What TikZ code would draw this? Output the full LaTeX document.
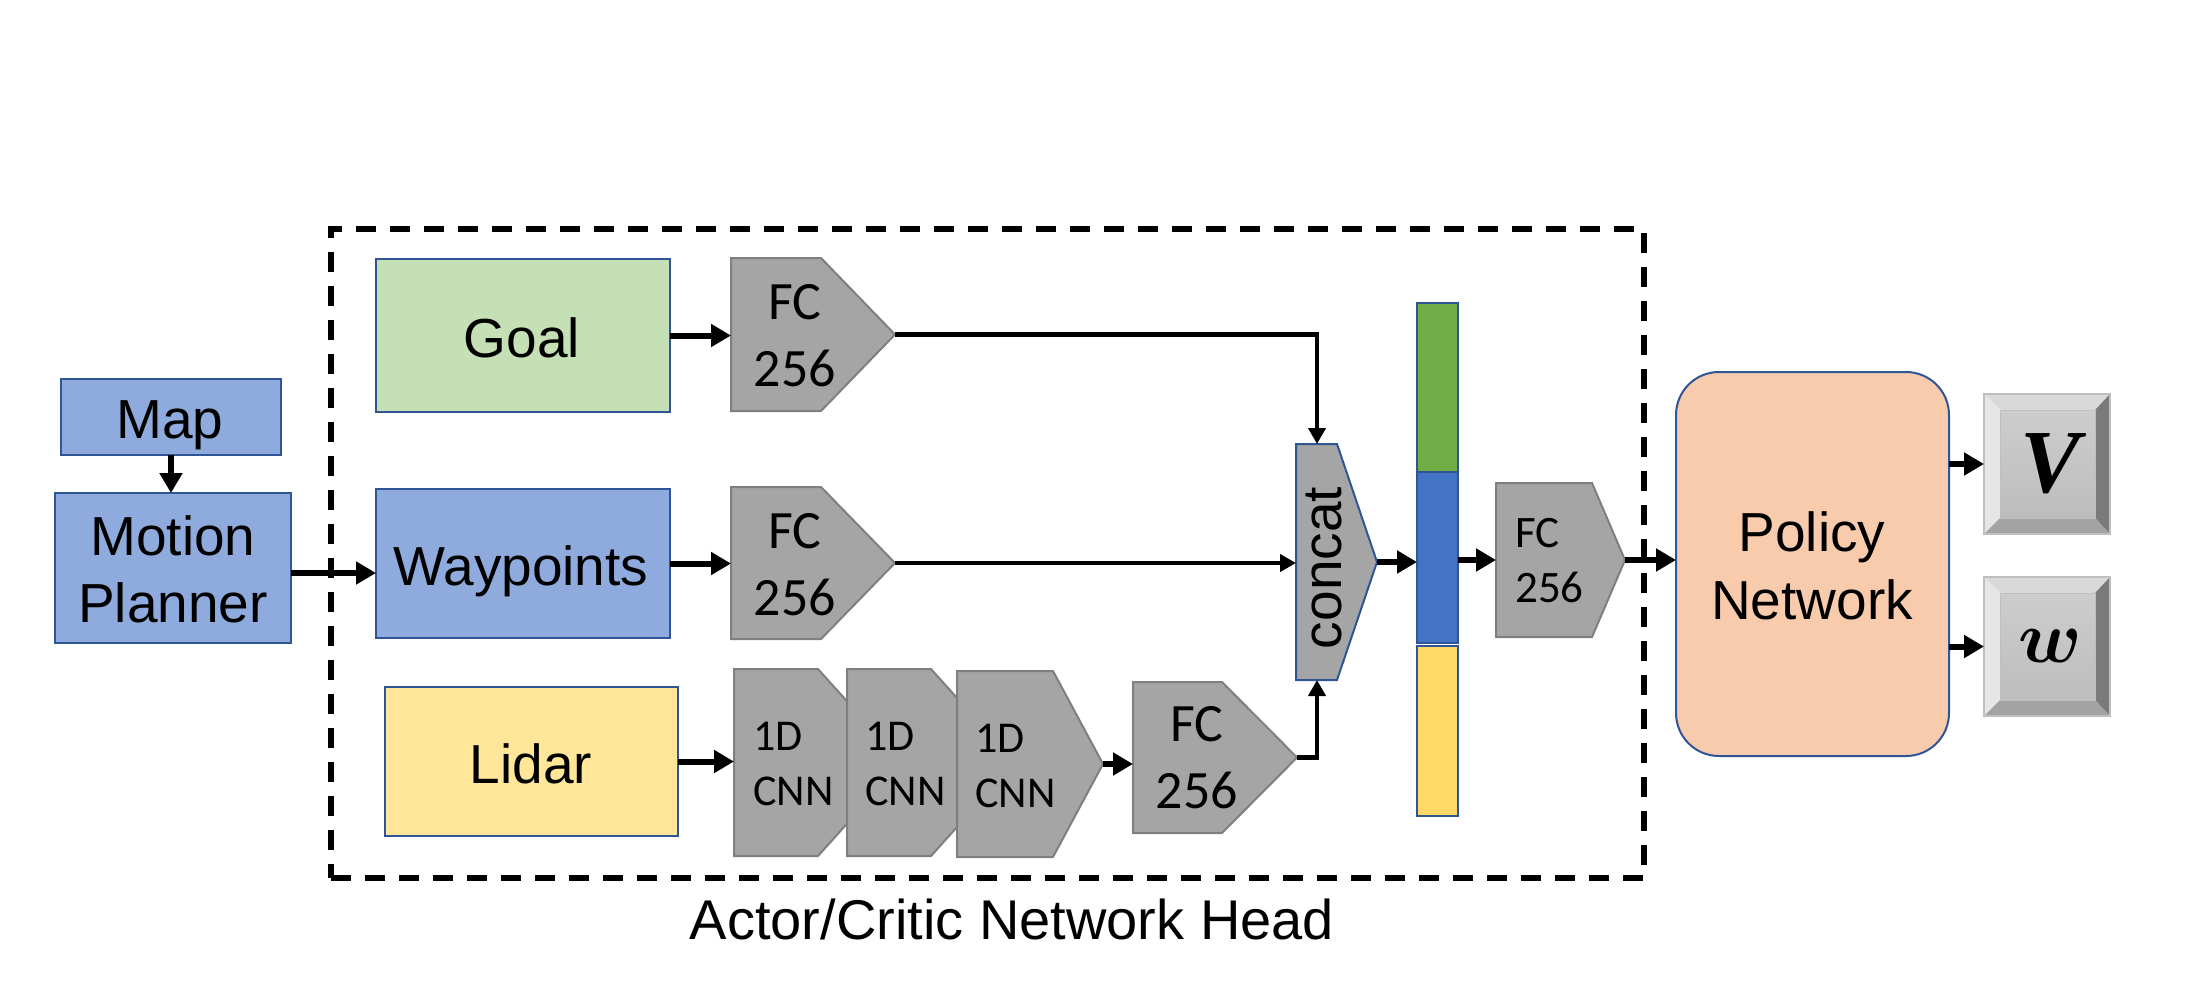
\documentclass[tikz,border=0pt]{standalone}
\usepackage{amsmath}
\usepackage{graphicx}
\usepackage{fontspec}
\setmainfont{Liberation Sans}
\newfontfamily\calib{Carlito}
\newfontfamily\timesf{Liberation Serif}
\usetikzlibrary{arrows.meta}
\definecolor{bordblue}{HTML}{2F5597}
\definecolor{goalgreen}{HTML}{C5E0B4}
\definecolor{wpblue}{HTML}{8FAADC}
\definecolor{lidaryellow}{HTML}{FFE699}
\definecolor{fcgray}{HTML}{A5A5A5}
\definecolor{fcedge}{HTML}{7F7F7F}
\definecolor{bargreen}{HTML}{70AD47}
\definecolor{barblue}{HTML}{4472C4}
\definecolor{baryellow}{HTML}{FFD966}
\definecolor{policypeach}{HTML}{F8CBAD}
\definecolor{keytop}{HTML}{D9D9D9}
\definecolor{keyleft}{HTML}{E6E6E6}
\definecolor{keyright}{HTML}{7A7A7A}
\definecolor{keybottom}{HTML}{A3A3A3}
\definecolor{keyfacetop}{HTML}{CDCDCD}
\definecolor{keyfacebot}{HTML}{BDBDBD}
\definecolor{keyedge}{HTML}{BFBFBF}

% pentagon block: name, x-left, x-rect-end, x-tip, y-top, y-bottom
\newcommand\pentshape[6]{%
  \draw[fcshape] (#2,#5) -- (#3,#5) -- (#4,{(#5+#6)/2}) -- (#3,#6) -- (#2,#6) -- cycle;
  \coordinate (#1-in) at (#2,{(#5+#6)/2});
  \coordinate (#1-out) at (#4,{(#5+#6)/2});
}
% bevelled key: name, x1, y1, x2, y2, label
\newcommand\bevelkey[6]{%
  \fill[keytop] (#2,#3) -- (#4,#3) -- (#4-15,#3+16) -- (#2+16,#3+16) -- cycle;
  \fill[keyleft] (#2,#3) -- (#2+16,#3+16) -- (#2+16,#5-16) -- (#2,#5) -- cycle;
  \fill[keyright] (#4,#3) -- (#4-15,#3+16) -- (#4-15,#5-16) -- (#4,#5) -- cycle;
  \fill[keybottom] (#2,#5) -- (#2+16,#5-16) -- (#4-15,#5-16) -- (#4,#5) -- cycle;
  \shade[top color=keyfacetop, bottom color=keyfacebot] (#2+16,#3+16) rectangle (#4-15,#5-16);
  \draw[keyedge, line width=1pt] (#2+16,#3+16) rectangle (#4-15,#5-16);
  \draw[keyedge, line width=2pt] (#2,#3) rectangle (#4,#5);
  \node[inner sep=0pt, outer sep=0pt, minimum width={#4-#2}, minimum height={#5-#3}] (#1)
    at ({(#2+#4)/2},{(#3+#5)/2}) {};
  \node[inner sep=0pt] (#1-lbl) at ([xshift=3pt]#1.center) {#6};
}

\begin{document}
\begin{tikzpicture}[x=1pt,y=-1pt,
  box/.style={draw=bordblue, line width=2pt, inner sep=0pt, outer sep=0pt},
  fcshape/.style={draw=fcedge, fill=fcgray, line width=2pt, line join=miter},
  lbl/.style={inner sep=0pt, font=\fontsize{55}{67}\selectfont},
  mlbl/.style={inner sep=0pt, align=center, font=\fontsize{55}{67}\selectfont},
  fctext/.style={inner sep=0pt, align=center, font=\calib\fontsize{54}{67}\selectfont},
  smallfc/.style={inner sep=0pt, align=left, anchor=west, font=\calib\fontsize{45}{55}\selectfont},
  cnntext/.style={inner sep=0pt, align=left, anchor=west, font=\calib\fontsize{44}{55}\selectfont},
  arr/.style={line width=6pt, -{Triangle[length=20pt,width=22pt]}},
  conn/.style={line width=4.5pt, -{Triangle[length=16pt,width=17pt]}},
  headbox/.style={draw, dash pattern=on 20pt off 14pt, line width=5.5pt, inner sep=0pt, outer sep=0pt}
]
\useasboundingbox (0,0) rectangle (2190,996);

% dashed actor/critic head
\node[headbox, minimum width=1313, minimum height=649] (head) at (987.5,553.5) {};
\node[lbl, anchor=base, font=\fontsize{56}{67}\selectfont] (caption) at (1012,939) {Actor/Critic Network Head};

% left side
\node[box, fill=wpblue, minimum width=220, minimum height=76] (map) at (171,417) {};
\node[lbl, anchor=base] (maplbl) at (170,438) {Map};
\node[box, fill=wpblue, minimum width=236, minimum height=150] (mp) at (173,568) {};
\node[mlbl] (mplbl) at (173,569.5) {Motion\\Planner};

% input boxes
\node[box, fill=goalgreen, minimum width=294, minimum height=153] (goal) at (523,335.5) {};
\node[lbl, anchor=base] (goallbl) at (522,357) {Goal};
\node[box, fill=wpblue, minimum width=294, minimum height=149] (wp) at (523,563.5) {};
\node[lbl, anchor=base] (wplbl) at (521,585) {Waypoints};
\node[box, fill=lidaryellow, minimum width=293, minimum height=149] (lidar) at (531.5,761.5) {};
\node[lbl, anchor=base] (lidarlbl) at (531,783) {Lidar};

% FC blocks
\pentshape{fc1}{731}{821}{895}{258}{411}
\node[fctext] (fc1lbl) at (795,336) {FC\\256};
\pentshape{fc2}{731}{821}{895}{487}{639}
\node[fctext] (fc2lbl) at (795,565) {FC\\256};

% CNN chain
\pentshape{cnn1}{734}{818}{902}{669}{856}
\pentshape{cnn2}{847}{931}{1015}{669}{856}
\pentshape{cnn3}{957}{1053}{1103}{671}{857}
\node[cnntext] (cnn1lbl) at (753,763.5) {1D\\CNN};
\node[cnntext] (cnn2lbl) at (865,763.5) {1D\\CNN};
\node[cnntext] (cnn3lbl) at (975,765.5) {1D\\CNN};
\pentshape{fc4}{1133}{1222}{1297}{682}{833}
\node[fctext] (fc4lbl) at (1197,758) {FC\\256};

% concat
\draw[draw=bordblue, fill=fcgray, line width=2pt] (1296,444) -- (1337,444) -- (1377,562) -- (1337,680) -- (1296,680) -- cycle;
\coordinate (concat-top) at (1317,444);
\coordinate (concat-bot) at (1317,680);
\coordinate (concat-left) at (1296,562);
\coordinate (concat-out) at (1377,562);
\node[rotate=90, inner sep=0pt, font=\fontsize{55}{67}\selectfont] (concatlbl) at (1324,568) {concat};

% feature bar
\node[box, fill=bargreen, minimum width=41, minimum height=169] (barg) at (1437.5,387.5) {};
\node[box, fill=barblue, minimum width=41, minimum height=171] (barb) at (1437.5,557.5) {};
\node[box, fill=baryellow, minimum width=41, minimum height=170] (bary) at (1437.5,731) {};

% FC after bar
\pentshape{fc3}{1496}{1592}{1625}{483}{637}
\node[smallfc] (fc3lbl) at (1515,561) {FC\\256};

% policy network
\node[box, fill=policypeach, rounded corners=43pt, minimum width=273, minimum height=384] (policy) at (1812.5,564) {};
\node[mlbl, font=\fontsize{55}{68}\selectfont] (policylbl) at (1812,566) {Policy\\Network};

% output keys
\bevelkey{vkey}{1984}{394}{2110}{534}{\timesf\fontsize{90}{90}\selectfont\bfseries\itshape V}
\bevelkey{wkey}{1984}{577}{2110}{716}{\scalebox{7.4}{$\boldsymbol{w}$}}

% connectors
\draw[arr] (map.south) -- (map.south |- mp.north);
\draw[arr] ([yshift=-5pt]mp.east) -- ([yshift=-5pt]mp.east -| wp.west);
\draw[arr] (goal.east) -- (goal.east -| fc1-in);
\draw[arr] (wp.east) -- (wp.east -| fc2-in);
\draw[arr] (lidar.east) -- (lidar.east -| cnn1-in);
\draw[arr] (cnn3-out) -- (cnn3-out -| fc4-in);
\draw[conn] (fc1-out) -| (concat-top);
\draw[conn] (fc2-out) -- (fc2-out -| concat-left);
\draw[conn] (fc4-out) -| (concat-bot);
\draw[arr] (concat-out) -- (concat-out -| barb.west);
\draw[arr] (barb.east |- fc3-in) -- (fc3-in);
\draw[arr] (fc3-out) -- (fc3-out -| policy.west);
\draw[arr] (policy.east |- vkey.west) -- (vkey.west);
\draw[arr] (policy.east |- wkey.west) -- (wkey.west);
\end{tikzpicture}
\end{document}
